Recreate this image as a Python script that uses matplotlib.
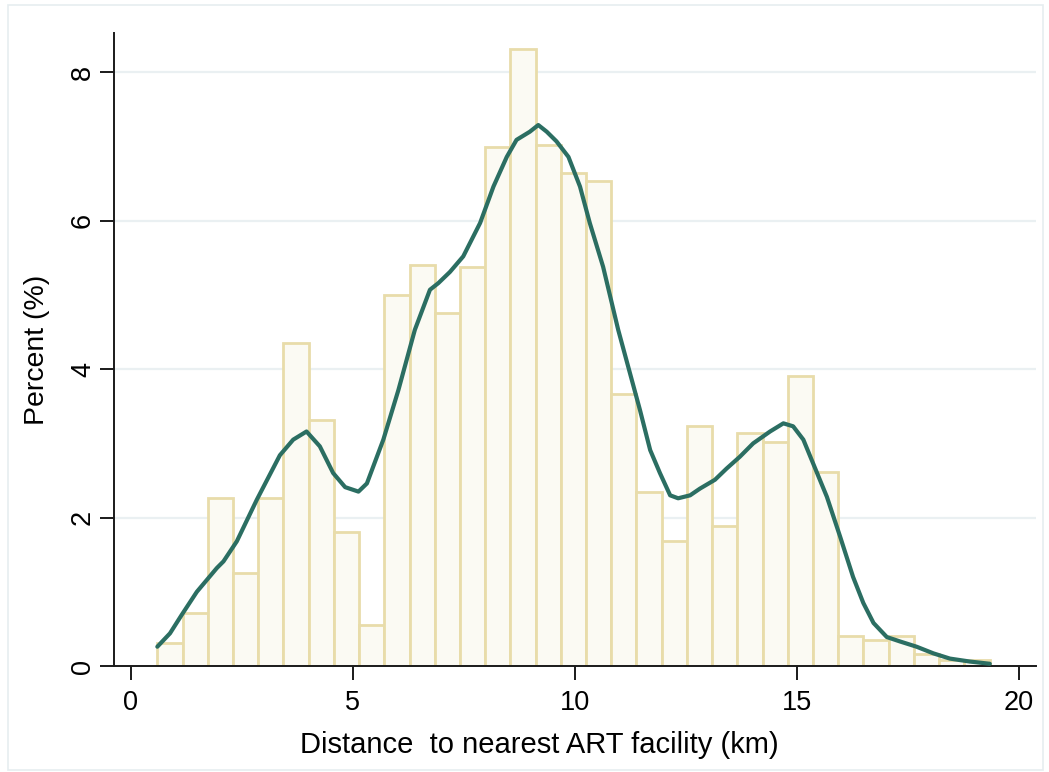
import matplotlib
matplotlib.use("Agg")
import matplotlib.pyplot as plt
from matplotlib.patches import Rectangle
import numpy as np

plt.rcParams['font.family'] = ['Liberation Sans', 'DejaVu Sans']

# Histogram of distance to nearest ART facility (percent per bin)
bin_start = 0.6
bin_width = 0.568
bar_percent = [0.31, 0.72, 2.26, 1.25, 2.26, 4.35, 3.31, 1.81, 0.55,
               5.00, 5.40, 4.76, 5.37, 6.99, 8.31, 7.02, 6.65, 6.54,
               3.67, 2.34, 1.68, 3.23, 1.89, 3.14, 3.02, 3.91, 2.62,
               0.40, 0.35, 0.40, 0.16, 0.08, 0.08]

# Kernel density overlay, in percent units
kde_x = [0.60, 0.885, 1.15, 1.49, 1.94, 2.09, 2.39, 2.84, 3.36, 3.66, 3.96,
         4.26, 4.56, 4.83, 5.13, 5.32, 5.69, 6.03, 6.40, 6.74, 6.93, 7.19,
         7.49, 7.87, 8.17, 8.47, 8.69, 8.99, 9.18, 9.37, 9.59, 9.86, 10.12,
         10.34, 10.64, 10.98, 11.47, 11.70, 11.92, 12.15, 12.33, 12.60,
         12.82, 13.16, 13.42, 13.72, 14.02, 14.40, 14.70, 14.92, 15.15,
         15.37, 15.68, 15.98, 16.27, 16.50, 16.73, 17.03, 17.33, 17.70,
         18.08, 18.45, 18.90, 19.35]
kde_y = [0.26, 0.44, 0.69, 1.00, 1.32, 1.41, 1.68, 2.24, 2.84, 3.05, 3.16,
         2.96, 2.60, 2.41, 2.35, 2.46, 3.05, 3.72, 4.53, 5.07, 5.16, 5.31,
         5.52, 5.97, 6.46, 6.86, 7.09, 7.20, 7.29, 7.20, 7.07, 6.86, 6.46,
         5.97, 5.38, 4.53, 3.45, 2.91, 2.60, 2.30, 2.26, 2.30, 2.39, 2.51,
         2.66, 2.82, 3.00, 3.16, 3.27, 3.23, 3.05, 2.73, 2.28, 1.74, 1.20,
         0.85, 0.58, 0.39, 0.33, 0.26, 0.17, 0.10, 0.06, 0.03]

x_ticks = [0, 5, 10, 15, 20]
y_ticks = [0, 2, 4, 6, 8]

fig = plt.figure(figsize=(10.49, 7.72), dpi=100)
fig.patches.append(Rectangle((8 / 1049, 2 / 772), 1035 / 1049, 765 / 772,
                             transform=fig.transFigure, fill=False,
                             edgecolor='#e6edf0', linewidth=1.2))
ax = fig.add_axes([114 / 1049, (772 - 666) / 772, 922 / 1049, 633 / 772])

lefts = bin_start + bin_width * np.arange(len(bar_percent))
ax.bar(lefts, bar_percent, width=bin_width, align='edge',
       color='#fbfaf3', edgecolor='#e8dcaa', linewidth=2.0, zorder=2)
ax.plot(kde_x, kde_y, color='#2b6e62', linewidth=3.0, zorder=3,
        solid_capstyle='round', solid_joinstyle='round')

for yv in y_ticks[1:]:
    ax.axhline(yv, color='#eaf0f2', linewidth=1.6, zorder=1)

ax.set_xlim(-0.376, 20.39)
ax.set_ylim(0, 8.53)
ax.set_xticks(x_ticks)
ax.set_yticks(y_ticks)
ax.set_xticklabels([str(v) for v in x_ticks], fontsize=19.5)
ax.set_yticklabels([str(v) for v in y_ticks], fontsize=19.5, rotation=90,
                   va='center')
ax.tick_params(axis='both', length=10, width=1.4, color='#1a1a1a')
ax.tick_params(axis='x', pad=7)
ax.tick_params(axis='y', pad=3)

for side in ('top', 'right'):
    ax.spines[side].set_visible(False)
for side in ('left', 'bottom'):
    ax.spines[side].set_linewidth(1.4)
    ax.spines[side].set_color('#1a1a1a')

ax.set_xlabel('Distance  to nearest ART facility (km)', fontsize=21,
              va='center')
ax.xaxis.set_label_coords(0.461, -0.125)
ax.set_ylabel('Percent (%)', fontsize=20.5, labelpad=14)

fig.savefig('out.png', dpi=100)
